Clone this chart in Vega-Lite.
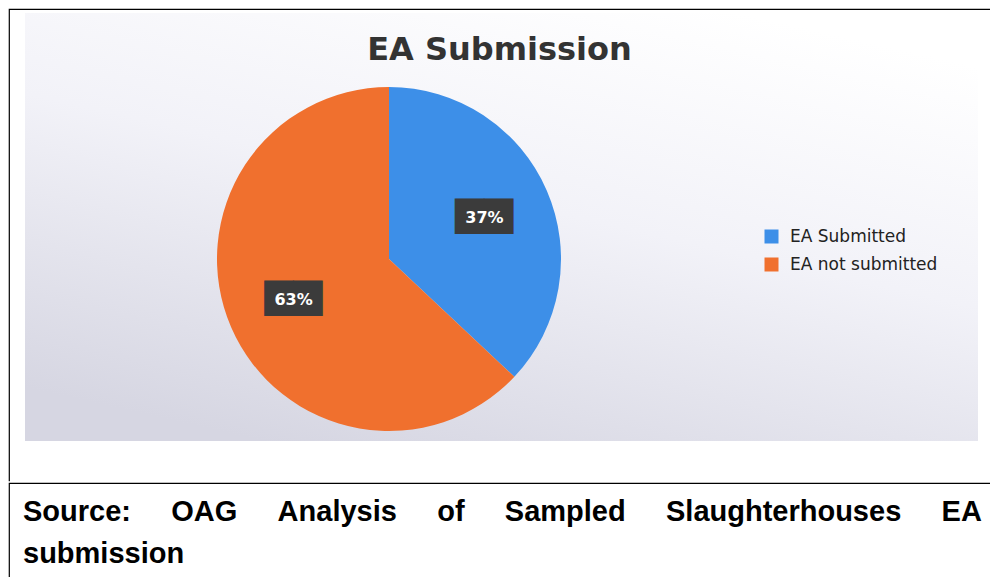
{
  "$schema": "https://vega.github.io/schema/vega-lite/v6.json",
  "background": "white",
  "padding": {"left": 8, "top": 8, "right": 0, "bottom": 0},
  "spacing": 0,
  "config": {"view": {"stroke": null}},
  "vconcat": [
    {
      "width": 981,
      "height": 472,
      "view": {"stroke": "black", "strokeWidth": 1.2, "strokeDash": [981, 1453, 472, 0]},
      "title": {
        "text": "EA Submission",
        "font": "DejaVu Sans",
        "fontSize": 32,
        "fontWeight": "bold",
        "color": "#333333",
        "anchor": "middle",
        "frame": "group",
        "offset": -58,
        "baseline": "top"
      },
      "data": {
        "values": [
          {"status": "EA Submitted", "share": 37, "label": "37%", "ord": 1},
          {"status": "EA not submitted", "share": 63, "label": "63%", "ord": 2}
        ]
      },
      "layer": [
        {
          "data": {"values": [{}]},
          "mark": {
            "type": "rect",
            "x": 16, "x2": 969, "y": 4, "y2": 432,
            "fill": {
              "gradient": "linear", "x1": 0.75, "y1": 0, "x2": 0.25, "y2": 1,
              "stops": [
                {"offset": 0, "color": "#ffffff"},
                {"offset": 0.45, "color": "#f2f2f8"},
                {"offset": 1, "color": "#d6d6e2"}
              ]
            }
          },
          "encoding": {}
        },
        {
          "mark": {"type": "arc", "outerRadius": 172, "x": 380, "y": 250},
          "encoding": {
            "theta": {"field": "share", "type": "quantitative", "stack": true},
            "order": {"field": "ord", "type": "quantitative"},
            "color": {
              "field": "status",
              "type": "nominal",
              "sort": ["EA Submitted", "EA not submitted"],
              "scale": {"domain": ["EA Submitted", "EA not submitted"], "range": ["#3d8fe8", "#f0702e"]},
              "legend": {
                "orient": "none", "legendX": 754, "legendY": 219, "title": null,
                "symbolType": "square", "symbolSize": 196, "symbolStrokeWidth": 0, "symbolOpacity": 1,
                "labelFont": "DejaVu Sans", "labelFontSize": 17, "labelColor": "#222222",
                "rowPadding": 10, "labelOffset": 10, "padding": 0, "labelLimit": 300
              }
            }
          }
        },
        {
          "mark": {"type": "text", "text": "▅▅", "font": "DejaVu Sans Mono", "fontSize": 48, "color": "#3b3b3b", "radius": 104, "align": "center", "baseline": "alphabetic", "dy": 4, "x": 380, "y": 250},
          "encoding": {
            "theta": {"field": "share", "type": "quantitative", "stack": true},
            "order": {"field": "ord", "type": "quantitative"}
          }
        },
        {
          "mark": {"type": "text", "font": "DejaVu Sans", "fontSize": 16, "fontWeight": "bold", "color": "white", "radius": 104, "align": "center", "baseline": "middle", "x": 380, "y": 250},
          "encoding": {
            "theta": {"field": "share", "type": "quantitative", "stack": true},
            "order": {"field": "ord", "type": "quantitative"},
            "text": {"field": "label"}
          }
        }
      ]
    },
    {
      "width": 981,
      "height": 96,
      "view": {"stroke": "black", "strokeWidth": 1.2, "strokeDash": [981, 1077, 96, 0]},
      "title": {
        "text": ["Source:\u00a0\u00a0\u00a0\u00a0\u00a0OAG\u00a0\u00a0\u00a0\u00a0\u00a0Analysis\u00a0\u00a0\u00a0\u00a0\u00a0of\u00a0\u00a0\u00a0\u00a0\u00a0Sampled\u00a0\u00a0\u00a0\u00a0\u00a0Slaughterhouses\u00a0\u00a0\u00a0\u00a0\u00a0EA", "submission"],
        "font": "Liberation Sans",
        "fontSize": 29,
        "fontWeight": "bold",
        "color": "black",
        "anchor": "start",
        "frame": "group",
        "offset": -86,
        "dx": 14,
        "lineHeight": 42,
        "baseline": "top"
      },
      "data": {"values": []},
      "mark": {"type": "text"},
      "encoding": {}
    }
  ]
}
